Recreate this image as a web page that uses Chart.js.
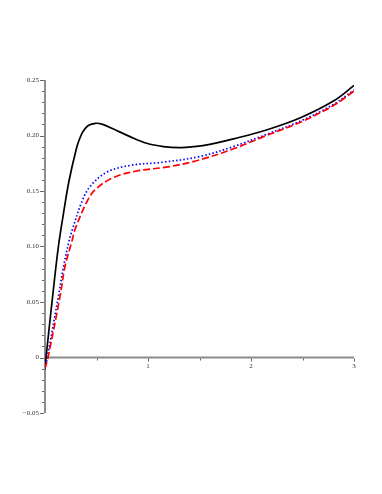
<!DOCTYPE html>
<html>
<head>
<meta charset="utf-8">
<script src="https://cdn.jsdelivr.net/npm/chart.js@4/dist/chart.umd.min.js"></script>
<style>
html,body{margin:0;padding:0;background:#fff;}
#wrap{width:382px;height:494px;position:relative;}
</style>
</head>
<body>
<div id="wrap"><canvas id="c" width="382" height="494"></canvas></div>
<script>
// Data
const blackX = [0, 0.01, 0.074, 0.13, 0.178, 0.233, 0.307, 0.34, 0.372, 0.42, 0.49, 0.56, 0.66, 0.825, 0.987, 1.15, 1.3, 1.45, 1.6, 1.83, 2.15, 2.48, 2.8, 3];
const blackY = [-0.011, 0, 0.055, 0.1, 0.129, 0.159, 0.189, 0.198, 0.204, 0.209, 0.211, 0.21, 0.206, 0.199, 0.193, 0.19, 0.189, 0.19, 0.192, 0.197, 0.205, 0.216, 0.231, 0.245];
const blueX = [0, 0.022, 0.13, 0.18, 0.236, 0.265, 0.356, 0.437, 0.6, 0.825, 1.15, 1.5, 1.83, 2.15, 2.48, 2.8, 3];
const blueY = [-0.01, 0, 0.055, 0.082, 0.106, 0.115, 0.14, 0.154, 0.167, 0.173, 0.176, 0.181, 0.19, 0.201, 0.213, 0.228, 0.241];
const redX = [0, 0.029, 0.146, 0.194, 0.265, 0.29, 0.405, 0.485, 0.66, 0.89, 1.21, 1.5, 1.83, 2.15, 2.48, 2.8, 3];
const redY = [-0.01, 0, 0.055, 0.082, 0.106, 0.115, 0.14, 0.151, 0.162, 0.168, 0.172, 0.178, 0.188, 0.2, 0.212, 0.227, 0.24];

const xTickValues = [1, 2, 3];
const xTickLabels = ['1', '2', '3'];
const yTickValues = [-0.05, 0, 0.05, 0.10, 0.15, 0.20, 0.25];
const yTickLabels = ['\u22120.05', '0', '0.05', '0.10', '0.15', '0.20', '0.25'];

function pts(xs, ys){ return xs.map((x,i)=>({x:x, y:ys[i]})); }

const axesPlugin = {
  id: 'mapleAxes',
  beforeDatasetsDraw(chart){
    const ctx = chart.ctx;
    const xs = chart.scales.x, ys = chart.scales.y;
    const x0 = xs.getPixelForValue(0), y0 = ys.getPixelForValue(0);
    ctx.save();
    ctx.strokeStyle = '#8c8c8c';
    ctx.lineWidth = 2;
    ctx.beginPath();
    ctx.moveTo(x0, ys.getPixelForValue(-0.05));
    ctx.lineTo(x0, ys.getPixelForValue(0.25));
    ctx.stroke();
    ctx.beginPath();
    ctx.moveTo(x0, y0);
    ctx.lineTo(xs.getPixelForValue(3), y0);
    ctx.stroke();
    ctx.lineWidth = 1;
    ctx.strokeStyle = '#666';
    for (let i = -5; i <= 25; i++) {
      const v = i / 100;
      const py = Math.round(ys.getPixelForValue(v)) + 0.5;
      const len = (i % 5 === 0) ? 4 : 2;
      ctx.beginPath();
      ctx.moveTo(x0 - 1 - len, py);
      ctx.lineTo(x0 - 1, py);
      ctx.stroke();
    }
    for (let i = 1; i <= 6; i++) {
      const v = i / 2;
      const px = Math.round(xs.getPixelForValue(v)) + 0.5;
      const len = (i % 2 === 0) ? 3 : 2;
      ctx.beginPath();
      ctx.moveTo(px, y0 + 1);
      ctx.lineTo(px, y0 + 1 + len);
      ctx.stroke();
    }
    ctx.fillStyle = '#333';
    ctx.font = '7px "Liberation Serif", "DejaVu Serif", serif';
    ctx.textAlign = 'right';
    ctx.textBaseline = 'middle';
    yTickValues.forEach((v,i)=>{
      ctx.fillText(yTickLabels[i], x0 - 6, ys.getPixelForValue(v));
    });
    ctx.textAlign = 'center';
    ctx.textBaseline = 'top';
    xTickValues.forEach((v,i)=>{
      ctx.fillText(xTickLabels[i], xs.getPixelForValue(v), y0 + 5);
    });
    ctx.restore();
  }
};

new Chart(document.getElementById('c'), {
  type: 'line',
  data: {
    datasets: [
      { data: pts(redX, redY), borderColor: '#ff0000', borderWidth: 1.7, borderDash: [7, 3], pointRadius: 0, fill: false, tension: 0.35 },
      { data: pts(blueX, blueY), borderColor: '#0000ff', borderWidth: 1.7, borderDash: [1.5, 2.2], pointRadius: 0, fill: false, tension: 0.35 },
      { data: pts(blackX, blackY), borderColor: '#000000', borderWidth: 1.7, pointRadius: 0, fill: false, tension: 0.35 }
    ]
  },
  options: {
    responsive: false,
    animation: false,
    events: [],
    layout: { padding: { left: 45, right: 28, top: 80, bottom: 81 } },
    plugins: { legend: { display: false }, tooltip: { enabled: false } },
    scales: {
      x: { type: 'linear', min: 0, max: 3, display: false },
      y: { type: 'linear', min: -0.05, max: 0.25, display: false }
    }
  },
  plugins: [axesPlugin]
});
</script>
</body>
</html>
